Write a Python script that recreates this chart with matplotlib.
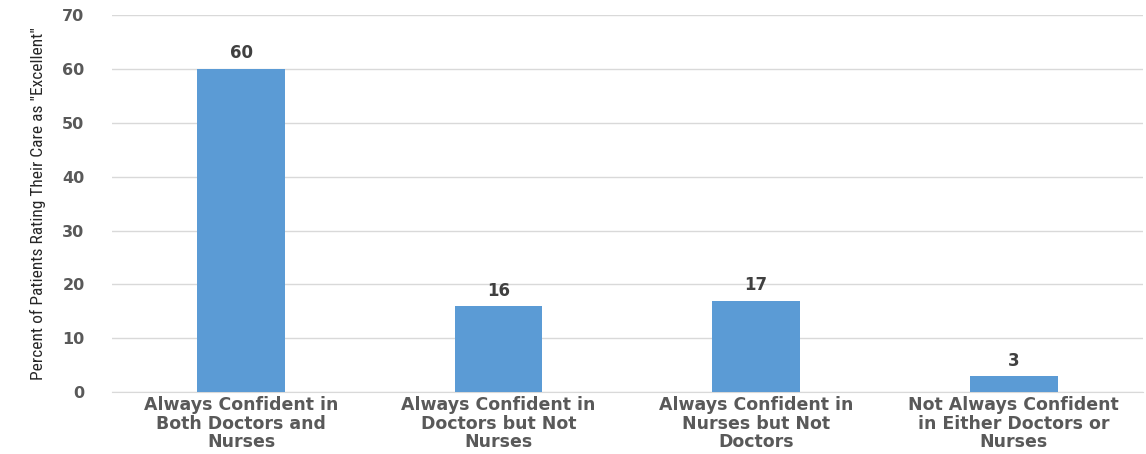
import matplotlib.pyplot as plt
from matplotlib import font_manager

# Survey results: share of patients rating care as "Excellent"
categories = [
    "Always Confident in\nBoth Doctors and\nNurses",
    "Always Confident in\nDoctors but Not\nNurses",
    "Always Confident in\nNurses but Not\nDoctors",
    "Not Always Confident\nin Either Doctors or\nNurses",
]
values = [60, 16, 17, 3]
y_ticks = [0, 10, 20, 30, 40, 50, 60, 70]

names = {f.name for f in font_manager.fontManager.ttflist}
narrow = "DejaVu Sans"
for cand in ["Liberation Sans Narrow", "DejaVu Sans Condensed", "Roboto Condensed", "Open Sans Condensed", "Roboto"]:
    if cand in names:
        narrow = cand
        break
wide = "DejaVu Sans"

fig = plt.figure(figsize=(11.46, 4.54), dpi=100)
ax = fig.add_axes([0.098, 0.136, 0.899, 0.831])

x = range(len(categories))
ax.bar(x, values, width=0.34, color="#5b9bd5", zorder=3)

for xi, v in zip(x, values):
    ax.text(xi, v + 1.2, str(v), ha="center", va="bottom", family=wide,
            fontsize=12, fontweight="bold", color="#404040")

ax.set_xlim(-0.5, len(categories) - 0.5)
ax.set_ylim(0, 70)
ax.set_yticks(y_ticks)
ax.set_yticklabels([str(t) for t in y_ticks], family=wide, fontsize=11.5,
                   fontweight="bold", color="#595959")
ax.set_xticks(list(x))
ax.set_xticklabels(categories, family=wide, fontsize=12.5, fontweight="bold",
                   color="#595959", linespacing=1.02)
ax.tick_params(axis="both", length=0)
ax.tick_params(axis="y", pad=20)
ax.tick_params(axis="x", pad=3)

ax.grid(axis="y", color="#d9d9d9", linewidth=1, zorder=0)
for side in ["top", "right", "left"]:
    ax.spines[side].set_visible(False)
ax.spines["bottom"].set_color("#d9d9d9")

ax.set_ylabel('Percent of Patients Rating Their Care as "Excellent"',
              family=narrow, fontsize=12.5, color="#262626", labelpad=12)

fig.savefig("out.png", dpi=100)
